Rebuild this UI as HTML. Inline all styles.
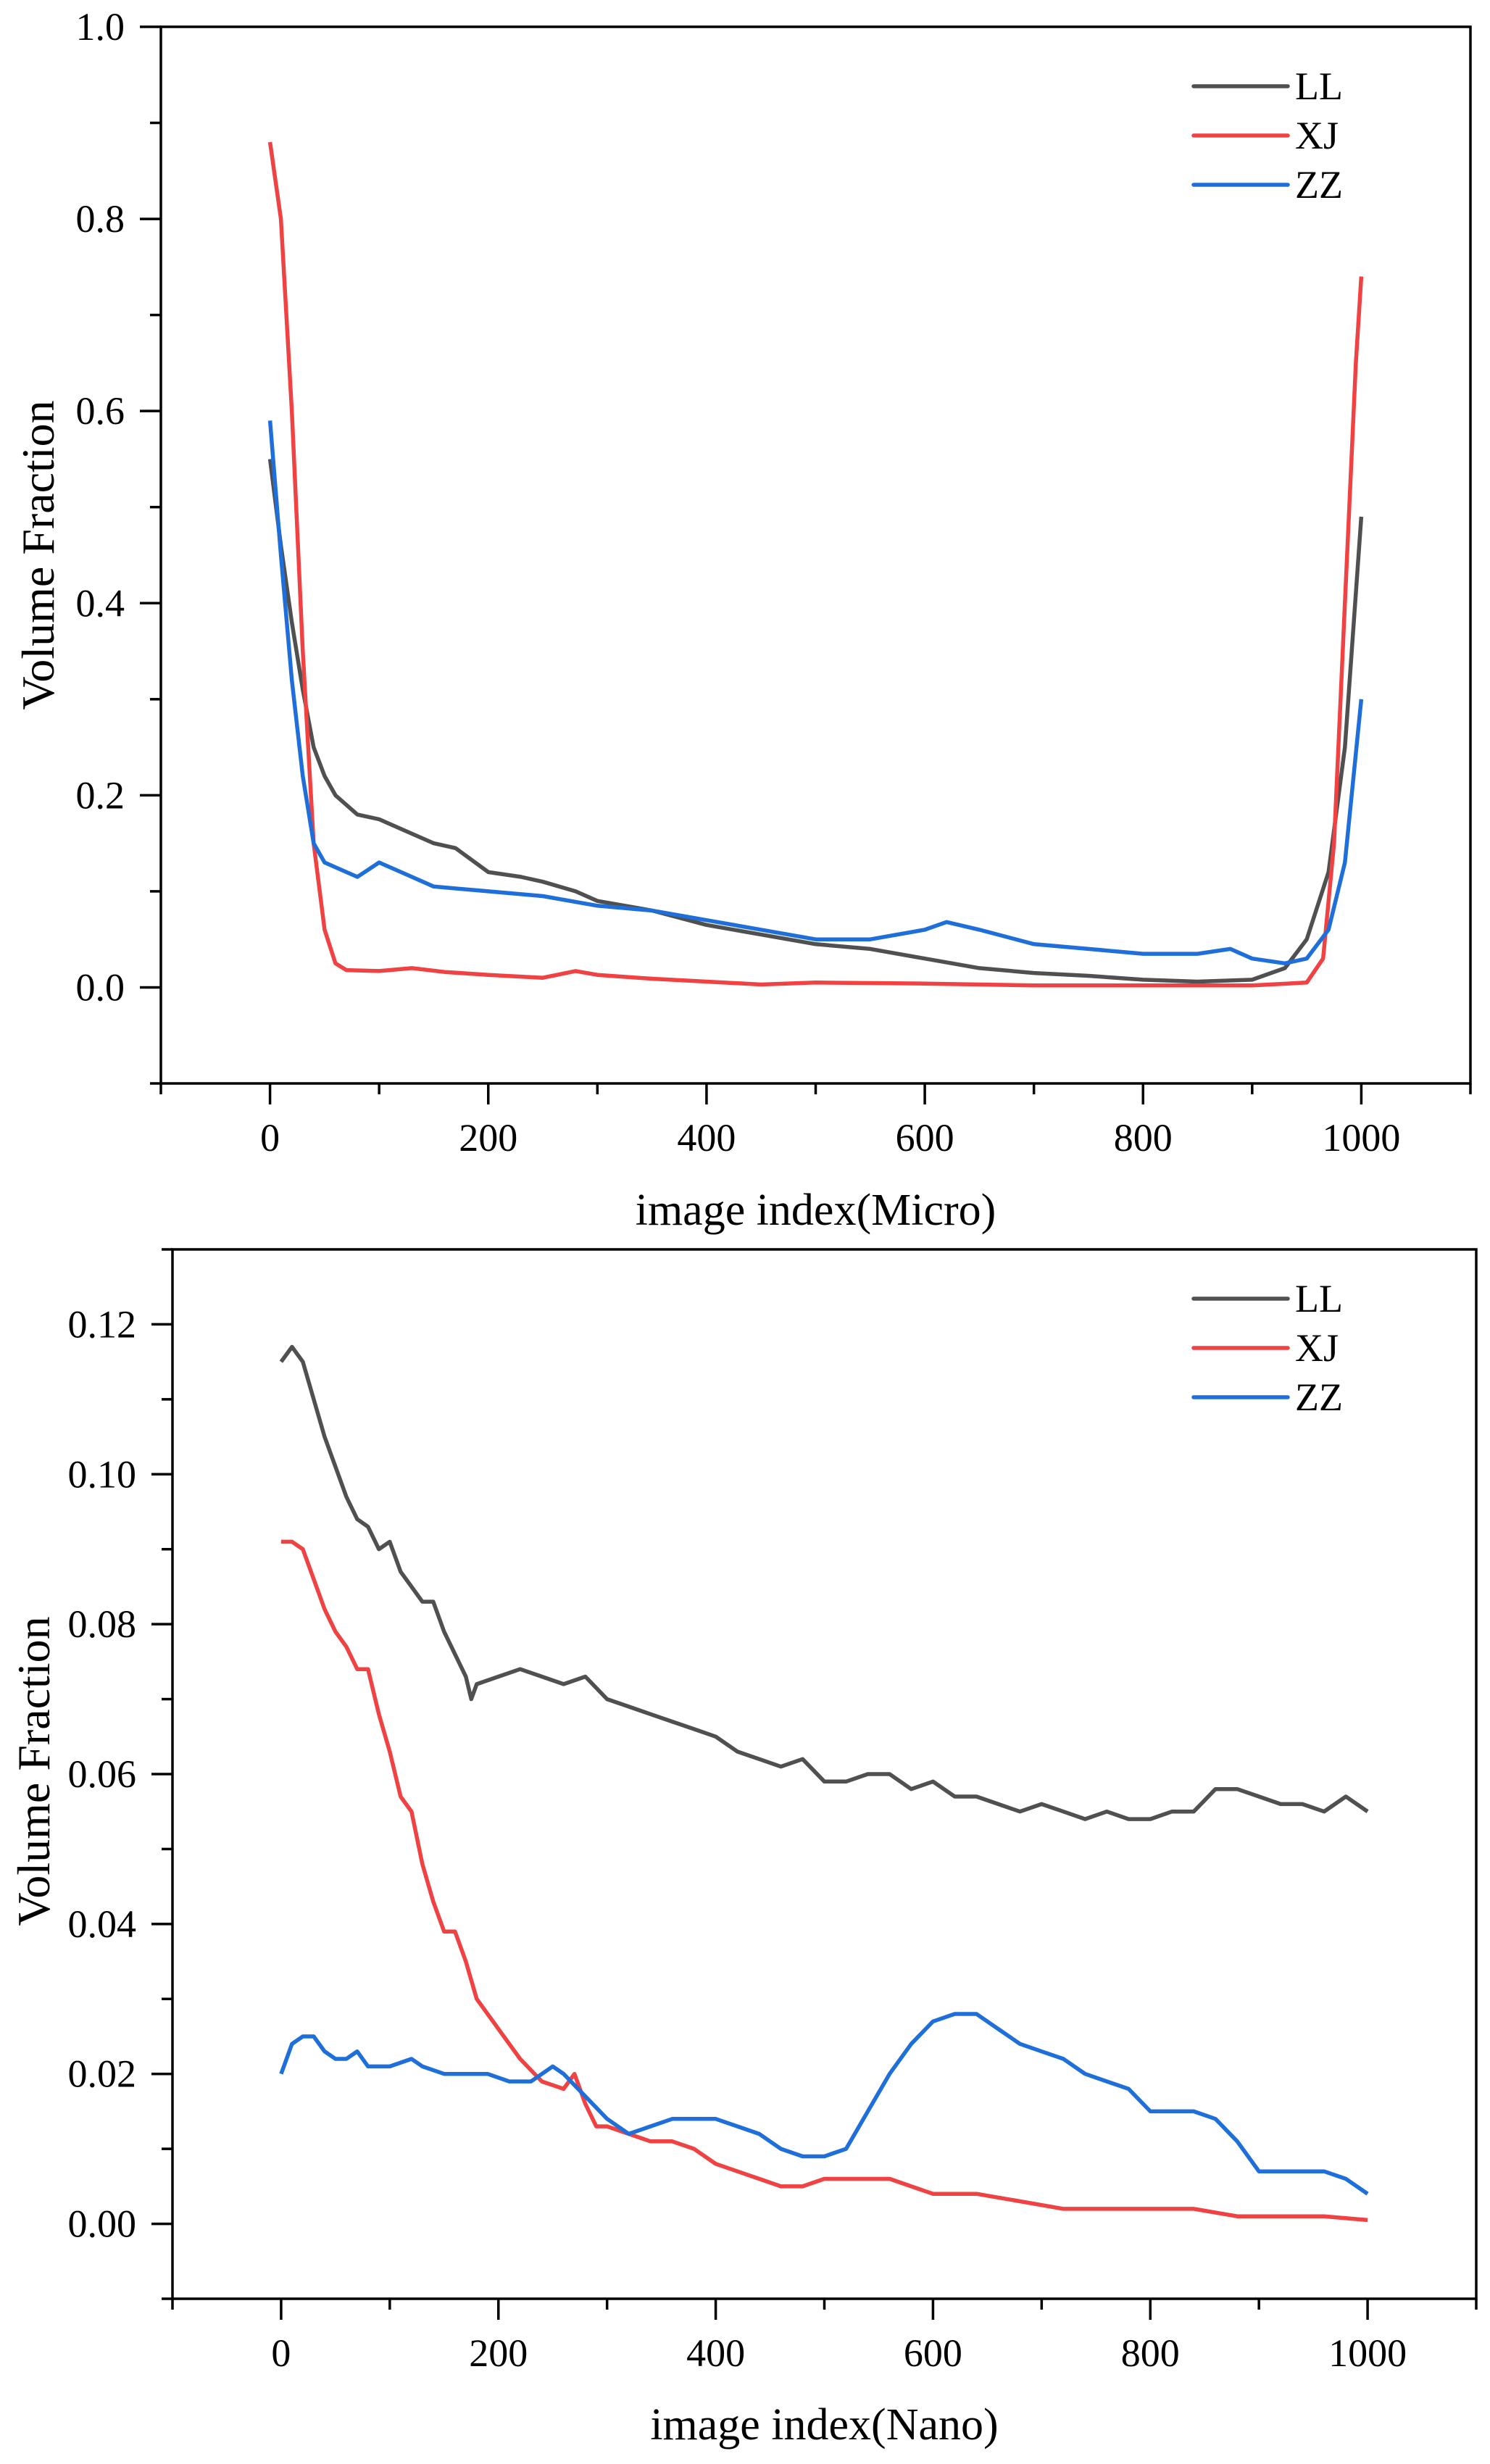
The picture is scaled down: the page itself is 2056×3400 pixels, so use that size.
<!DOCTYPE html>
<html><head><meta charset="utf-8"><style>
html,body{margin:0;padding:0;background:#fff;}
svg{display:block;}
text{font-family:"Liberation Serif",serif;fill:#000;}
</style></head><body>
<svg id="fig" width="2056" height="3400" viewBox="0 0 2056 3400" xmlns="http://www.w3.org/2000/svg"></svg>
<script>
// ---- Top chart (Micro) data ----
const microLLx = [0,10,20,30,40,50,60,80,100,130,150,170,200,230,250,280,300,350,400,450,500,550,600,650,700,750,800,850,900,930,950,970,985,1000];
const microLLy = [0.55,0.46,0.38,0.31,0.25,0.22,0.2,0.18,0.175,0.16,0.15,0.145,0.12,0.115,0.11,0.1,0.09,0.08,0.065,0.055,0.045,0.04,0.03,0.02,0.015,0.012,0.008,0.006,0.008,0.02,0.05,0.12,0.25,0.49];
const microXJx = [0,10,20,30,40,50,60,70,100,130,160,200,250,280,300,350,400,450,500,600,700,800,900,950,965,975,985,995,1000];
const microXJy = [0.88,0.8,0.6,0.35,0.15,0.06,0.025,0.018,0.017,0.02,0.016,0.013,0.01,0.017,0.013,0.009,0.006,0.003,0.005,0.004,0.002,0.002,0.002,0.005,0.03,0.15,0.4,0.65,0.74];
const microZZx = [0,10,20,30,40,50,70,80,100,120,150,200,250,300,350,400,450,500,550,600,620,650,700,750,800,850,880,900,930,950,970,985,1000];
const microZZy = [0.59,0.45,0.32,0.22,0.15,0.13,0.12,0.115,0.13,0.12,0.105,0.1,0.095,0.085,0.08,0.07,0.06,0.05,0.05,0.06,0.068,0.06,0.045,0.04,0.035,0.035,0.04,0.03,0.025,0.03,0.06,0.13,0.3];
const microYTicks = [0.0,0.2,0.4,0.6,0.8,1.0];
const microYLabels = ["0.0","0.2","0.4","0.6","0.8","1.0"];
const xTicks = [0,200,400,600,800,1000];
const xLabels = ["0","200","400","600","800","1000"];

// ---- Bottom chart (Nano) data ----
const nanoLLx = [0,10,20,30,40,50,60,70,80,90,100,110,120,130,140,150,160,170,175,180,200,220,240,260,280,300,320,340,360,380,400,420,440,460,480,500,520,540,560,580,600,620,640,660,680,700,720,740,760,780,800,820,840,860,880,900,920,940,960,980,1000];
const nanoLLy = [0.115,0.117,0.115,0.11,0.105,0.101,0.097,0.094,0.093,0.09,0.091,0.087,0.085,0.083,0.083,0.079,0.076,0.073,0.070,0.072,0.073,0.074,0.073,0.072,0.073,0.070,0.069,0.068,0.067,0.066,0.065,0.063,0.062,0.061,0.062,0.059,0.059,0.060,0.060,0.058,0.059,0.057,0.057,0.056,0.055,0.056,0.055,0.054,0.055,0.054,0.054,0.055,0.055,0.058,0.058,0.057,0.056,0.056,0.055,0.057,0.055];
const nanoXJx = [0,10,20,30,40,50,60,70,80,90,100,110,120,130,140,150,160,170,180,200,220,240,260,270,280,290,300,320,340,360,380,400,420,440,460,480,500,520,540,560,580,600,640,680,720,760,800,840,880,920,960,1000];
const nanoXJy = [0.091,0.091,0.09,0.086,0.082,0.079,0.077,0.074,0.074,0.068,0.063,0.057,0.055,0.048,0.043,0.039,0.039,0.035,0.030,0.026,0.022,0.019,0.018,0.020,0.016,0.013,0.013,0.012,0.011,0.011,0.010,0.008,0.007,0.006,0.005,0.005,0.006,0.006,0.006,0.006,0.005,0.004,0.004,0.003,0.002,0.002,0.002,0.002,0.001,0.001,0.001,0.0005];
const nanoZZx = [0,10,20,30,40,50,60,70,80,100,120,130,150,170,190,210,230,250,260,280,300,320,340,360,380,400,420,440,460,480,500,520,540,560,580,600,620,640,660,680,700,720,740,760,780,800,820,840,860,880,900,920,940,960,980,1000];
const nanoZZy = [0.020,0.024,0.025,0.025,0.023,0.022,0.022,0.023,0.021,0.021,0.022,0.021,0.020,0.020,0.020,0.019,0.019,0.021,0.020,0.017,0.014,0.012,0.013,0.014,0.014,0.014,0.013,0.012,0.010,0.009,0.009,0.010,0.015,0.020,0.024,0.027,0.028,0.028,0.026,0.024,0.023,0.022,0.020,0.019,0.018,0.015,0.015,0.015,0.014,0.011,0.007,0.007,0.007,0.007,0.006,0.004];
const nanoYTicks = [0.00,0.02,0.04,0.06,0.08,0.10,0.12];
const nanoYLabels = ["0.00","0.02","0.04","0.06","0.08","0.10","0.12"];

const seriesNames = ["LL","XJ","ZZ"];
const colors = ["#505050","#f04242","#1f6fdb"];
const NS = "http://www.w3.org/2000/svg";
const svg = document.getElementById('fig');

function mk(tag, attrs, parent){
  const e = document.createElementNS(NS, tag);
  for (const k in attrs) e.setAttribute(k, attrs[k]);
  (parent||svg).appendChild(e);
  return e;
}

function chart(cfg){
  const g = mk('g', {});
  
  
  const X = v => cfg.x0 + (v - cfg.xmin) / (cfg.xmax - cfg.xmin) * (cfg.x1 - cfg.x0);
  const Y = v => cfg.y1 - (v - cfg.ymin) / (cfg.ymax - cfg.ymin) * (cfg.y1 - cfg.y0);
  cfg.series.forEach((s, i) => {
    let d = '';
    s.x.forEach((xv, j) => { d += (j ? 'L' : 'M') + X(xv).toFixed(1) + ',' + Y(s.y[j]).toFixed(1); });
    const p = mk('path', {d: d, fill: 'none', stroke: colors[i], 'stroke-width': 5.5, 'stroke-linejoin': 'round'}, g);
    
    
  });
  const f = mk('rect', {x: cfg.x0, y: cfg.y0, width: cfg.x1 - cfg.x0, height: cfg.y1 - cfg.y0, fill: 'none', stroke: '#000', 'stroke-width': 3.5}, g);
  
  
  for (let v = cfg.xmin; v <= cfg.xmax + 0.001; v += 100) {
    const major = xTicks.indexOf(Math.round(v)) >= 0;
    const t = mk('line', {x1: X(v), x2: X(v), y1: cfg.y1, y2: cfg.y1 + (major ? 29 : 15), stroke: '#000', 'stroke-width': 3.5}, g);
    
    
  }
  xTicks.forEach((v, i) => {
    const t = mk('text', {x: X(v), y: cfg.y1 + 93, 'font-size': 54, 'text-anchor': 'middle'}, g);
    t.textContent = xLabels[i];
    
    
  });
  const step = cfg.yTicks[1] - cfg.yTicks[0];
  cfg.yTicks.forEach((v, i) => {
    const t = mk('line', {x1: cfg.x0 - 29, x2: cfg.x0, y1: Y(v), y2: Y(v), stroke: '#000', 'stroke-width': 3.5}, g);
    
    
    const lb = mk('text', {x: cfg.x0 - 50, y: Y(v) + 18, 'font-size': 54, 'text-anchor': 'end'}, g);
    lb.textContent = cfg.yLabels[i];
    
    
  });
  const minors = [cfg.yTicks[0] - step / 2].concat(cfg.yTicks.map(v => v + step / 2));
  minors.forEach(v => {
    if (v < cfg.ymin - 1e-9 || v > cfg.ymax + 1e-9) return;
    const t = mk('line', {x1: cfg.x0 - 15, x2: cfg.x0, y1: Y(v), y2: Y(v), stroke: '#000', 'stroke-width': 3.5}, g);
    
    
  });
  const xt = mk('text', {x: (cfg.x0 + cfg.x1) / 2, y: cfg.xTitleY, 'font-size': 62, 'text-anchor': 'middle'}, g);
  xt.textContent = cfg.xTitle;
  
  
  const yt = mk('text', {x: 0, y: 0, 'font-size': 64, 'text-anchor': 'middle', transform: 'translate(' + cfg.yTitleX + ',' + cfg.yTitleY + ') rotate(-90)'}, g);
  yt.textContent = 'Volume Fraction';
  
  
  seriesNames.forEach((n, i) => {
    const ly = cfg.legendY + i * 68;
    const lg = mk('g', {}, g);
    
    
    mk('line', {x1: 1647, x2: 1777, y1: ly, y2: ly, stroke: colors[i], 'stroke-width': 5.5, 'stroke-linecap': 'round'}, lg);
    const tx = mk('text', {x: 1787, y: ly + 18, 'font-size': 54}, lg);
    tx.textContent = n;
  });
}

chart({name: 'micro-chart', x0: 222, x1: 2029, y0: 37, y1: 1495, xmin: -100, xmax: 1100, ymin: -0.1, ymax: 1.0,
  yTicks: microYTicks, yLabels: microYLabels, xTitle: 'image index(Micro)', xTitleY: 1690, yTitleX: 74, yTitleY: 766, legendY: 119,
  series: [{x: microLLx, y: microLLy}, {x: microXJx, y: microXJy}, {x: microZZx, y: microZZy}]});

chart({name: 'nano-chart', x0: 238, x1: 2037, y0: 1724, y1: 3172, xmin: -100, xmax: 1100, ymin: -0.01, ymax: 0.13,
  yTicks: nanoYTicks, yLabels: nanoYLabels, xTitle: 'image index(Nano)', xTitleY: 3366, yTitleX: 68, yTitleY: 2444, legendY: 1792,
  series: [{x: nanoLLx, y: nanoLLy}, {x: nanoXJx, y: nanoXJy}, {x: nanoZZx, y: nanoZZy}]});
</script>
</body></html>
